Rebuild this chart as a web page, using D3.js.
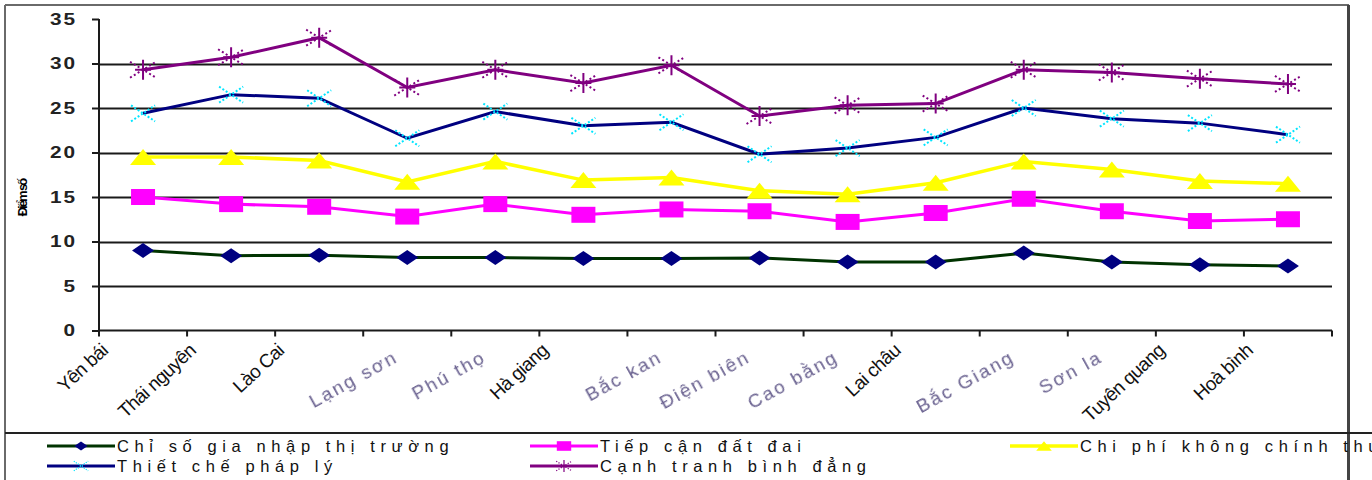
<!DOCTYPE html>
<html>
<head>
<meta charset="utf-8">
<script src="https://cdn.jsdelivr.net/npm/d3@7"></script>
<style>
  html, body { margin: 0; padding: 0; background: #fff; }
  svg { display: block; font-family: "Liberation Sans", Arial, sans-serif; }
</style>
</head>
<body>
<svg id="chart" width="1372" height="480"></svg>
<script>
// Provinces on the category axis
const provinces = ["Yên bái", "Thái nguyên", "Lào Cai", "Lạng sơn", "Phú thọ", "Hà giang", "Bắc kan",
  "Điện biên", "Cao bằng", "Lai châu", "Bắc Giang", "Sơn la", "Tuyên quang", "Hoà bình"];

// Component index scores per province
const giaNhapThiTruong = [9.0, 8.4, 8.45, 8.2, 8.2, 8.1, 8.1, 8.15, 7.7, 7.7, 8.7, 7.7, 7.4, 7.25];
const tiepCanDatDai    = [15.0, 14.2, 13.9, 12.8, 14.2, 13.0, 13.6, 13.4, 12.2, 13.2, 14.8, 13.4, 12.3, 12.5];
const chiPhiKhongChinhThuc = [19.5, 19.5, 19.1, 16.7, 19.0, 16.9, 17.2, 15.7, 15.3, 16.6, 19.0, 18.1, 16.8, 16.5];
const thietChePhapLy   = [24.4, 26.5, 26.1, 21.6, 24.6, 23.0, 23.4, 19.8, 20.5, 21.7, 25.0, 23.8, 23.3, 22.0];
const canhTranhBinhDang = [29.3, 30.7, 32.9, 27.3, 29.3, 27.8, 29.8, 24.1, 25.3, 25.5, 29.3, 29.0, 28.3, 27.7];

const seriesNames = ["Chỉ số gia nhập thị trường", "Tiếp cận đất đai", "Chi phí không chính thức",
  "Thiết chế pháp lý", "Cạnh tranh bình đẳng"];

const yTicks = [0, 5, 10, 15, 20, 25, 30, 35];
const yTitle = "Điểm số";

// Provinces whose axis labels are set in the darker, tighter style
const darkLabelProvinces = new Set(["Yên bái", "Thái nguyên", "Lào Cai", "Hà giang", "Lai châu", "Tuyên quang", "Hoà bình"]);

const svg = d3.select("#chart");

const plot = { left: 99, right: 1332, top: 19, bottom: 330.5 };

const x = d3.scaleBand().domain(provinces).range([plot.left, plot.right]).paddingInner(0).paddingOuter(0);
const y = d3.scaleLinear().domain([0, 35]).range([plot.bottom, plot.top]);
const cx = d => x(d) + x.bandwidth() / 2;

// Blur used for the softer axis labels
const defs = svg.append("defs");
defs.append("filter").attr("id", "soft").attr("x", "-20%").attr("y", "-50%").attr("width", "140%").attr("height", "200%")
  .append("feGaussianBlur").attr("stdDeviation", 0.7);

// Frame lines
const frame = svg.append("g").attr("fill", "none");
frame.append("line").attr("x1", 5).attr("y1", 5).attr("x2", 5).attr("y2", 480).attr("stroke", "#6a6a6a").attr("stroke-width", 2);
frame.append("line").attr("x1", 5).attr("y1", 5).attr("x2", 1349).attr("y2", 5).attr("stroke", "#6a6a6a").attr("stroke-width", 2);
frame.append("line").attr("x1", 1348.5).attr("y1", 5).attr("x2", 1348.5).attr("y2", 480).attr("stroke", "#444").attr("stroke-width", 3);
frame.append("line").attr("x1", 5).attr("y1", 433).attr("x2", 1372).attr("y2", 433).attr("stroke", "#222").attr("stroke-width", 2);

// Horizontal gridlines
svg.append("g")
  .selectAll("line")
  .data(yTicks.filter(t => t > 0 && t < 35))
  .join("line")
  .attr("x1", plot.left).attr("x2", plot.right)
  .attr("y1", d => Math.round(y(d)) + 0.5).attr("y2", d => Math.round(y(d)) + 0.5)
  .attr("stroke", "#1a1a1a").attr("stroke-width", 2);

// Y axis
const yAxis = svg.append("g")
  .attr("transform", `translate(${plot.left},0)`)
  .call(d3.axisLeft(y).tickValues(yTicks).tickSize(7).tickPadding(10).tickFormat(d3.format("d")));
yAxis.select(".domain").attr("stroke", "#1a1a1a").attr("stroke-width", 2).attr("d", `M0,${plot.top}V${plot.bottom}`);
yAxis.selectAll(".tick line").attr("stroke", "#1a1a1a").attr("stroke-width", 2);
yAxis.selectAll(".tick text")
  .attr("font-size", 16).attr("font-weight", "bold").attr("fill", "#222")
  .attr("letter-spacing", 1.5).attr("font-family", "'Liberation Sans', Arial, sans-serif")
  .attr("transform", "scale(1.3,1)");

// X axis: baseline and tick marks on category boundaries
const xAxis = svg.append("g")
  .attr("transform", `translate(0,${plot.bottom})`)
  .call(d3.axisBottom(x).tickSize(0).tickFormat(""));
xAxis.select(".domain").attr("stroke", "#1a1a1a").attr("stroke-width", 2).attr("d", `M${plot.left},0H${plot.right}`);
const boundaries = d3.range(provinces.length + 1).map(i => plot.left + i * x.step());
xAxis.append("g").selectAll("line").data(boundaries).join("line")
  .attr("x1", d => d).attr("x2", d => d).attr("y1", 0).attr("y2", 6)
  .attr("stroke", "#1a1a1a").attr("stroke-width", 2);

// Category labels
const labels = svg.append("g");
provinces.forEach(p => {
  const dark = darkLabelProvinces.has(p);
  const ax = cx(p) + (dark ? -34 : -8);
  const ay = dark ? 352 : 361;
  const t = labels.append("text")
    .attr("transform", `translate(${ax},${ay}) rotate(${dark ? -43 : -29})`)
    .attr("text-anchor", "end")
    .text(p);
  if (dark) {
    t.attr("font-size", 19).attr("fill", "#111").attr("letter-spacing", -0.6);
  } else {
    t.attr("font-size", 19).attr("fill", "#6a6290").attr("letter-spacing", 2.2)
      .attr("filter", "url(#soft)");
  }
});

// Y axis title
svg.append("text")
  .attr("transform", "translate(27,198) rotate(-90)")
  .attr("text-anchor", "middle")
  .attr("font-size", 13).attr("font-weight", "bold").attr("letter-spacing", -2)
  .attr("fill", "#000")
  .text(yTitle);

// Marker shapes
const markerShapes = {
  diamond: "M-11,0L0,-7.5L11,0L0,7.5Z",
  square: "M-12,-8H12V8H-12Z",
  triangle: "M0,-8L13,8H-13Z"
};

function drawMarker(g, kind, px, py, scale = 1) {
  const m = g.append("g").attr("transform", `translate(${px},${py}) scale(${scale})`);
  if (kind === "diamond") {
    m.append("path").attr("d", markerShapes.diamond).attr("fill", "#000080");
  } else if (kind === "square") {
    m.append("path").attr("d", markerShapes.square).attr("fill", "#ff00ff");
  } else if (kind === "triangle") {
    m.append("path").attr("d", markerShapes.triangle).attr("fill", "#ffff00");
  } else if (kind === "cross") {
    m.append("path").attr("d", "M-12,-8L12,8M-12,8L12,-8")
      .attr("stroke", "#00e5ff").attr("stroke-width", 2).attr("stroke-dasharray", "2,2").attr("fill", "none");
  } else if (kind === "star") {
    m.append("path").attr("d", "M-13,-8L13,8M-13,8L13,-8")
      .attr("stroke", "#800080").attr("stroke-width", 2).attr("stroke-dasharray", "2,2.5").attr("fill", "none");
    m.append("path").attr("d", "M0,-10V10M-8,0H8")
      .attr("stroke", "#800080").attr("stroke-width", 2).attr("fill", "none");
  }
}

const series = [
  { name: seriesNames[0], values: giaNhapThiTruong, line: "#003300", width: 3, marker: "diamond" },
  { name: seriesNames[1], values: tiepCanDatDai, line: "#ff00ff", width: 3, marker: "square" },
  { name: seriesNames[2], values: chiPhiKhongChinhThuc, line: "#ffff00", width: 3.5, marker: "triangle" },
  { name: seriesNames[3], values: thietChePhapLy, line: "#000080", width: 3, marker: "cross" },
  { name: seriesNames[4], values: canhTranhBinhDang, line: "#800080", width: 3, marker: "star" }
];

const lineGen = d3.line().x((d, i) => cx(provinces[i])).y(d => y(d));

const seriesG = svg.append("g");
series.forEach(s => {
  const g = seriesG.append("g");
  g.append("path").datum(s.values).attr("d", lineGen)
    .attr("fill", "none").attr("stroke", s.line).attr("stroke-width", s.width).attr("stroke-linejoin", "miter");
  s.values.forEach((v, i) => drawMarker(g, s.marker, cx(provinces[i]), y(v)));
});

// Legend
const legendCols = [47, 530, 1010];
const legendRows = [446, 466];
const legendSlots = [[0, 0], [1, 0], [2, 0], [0, 1], [1, 1]];
const legend = svg.append("g");
series.forEach((s, i) => {
  const [c, r] = legendSlots[i];
  const x0 = legendCols[c], yy = legendRows[r];
  const g = legend.append("g");
  g.append("line").attr("x1", x0).attr("x2", x0 + 68).attr("y1", yy).attr("y2", yy)
    .attr("stroke", s.line).attr("stroke-width", s.width);
  drawMarker(g, s.marker, x0 + 34, yy, 0.6);
  g.append("text").attr("x", x0 + 70).attr("y", yy + 6)
    .attr("font-size", 16.5).attr("letter-spacing", 5.6).attr("fill", "#111")
    .text(s.name);
});
</script>
</body>
</html>
